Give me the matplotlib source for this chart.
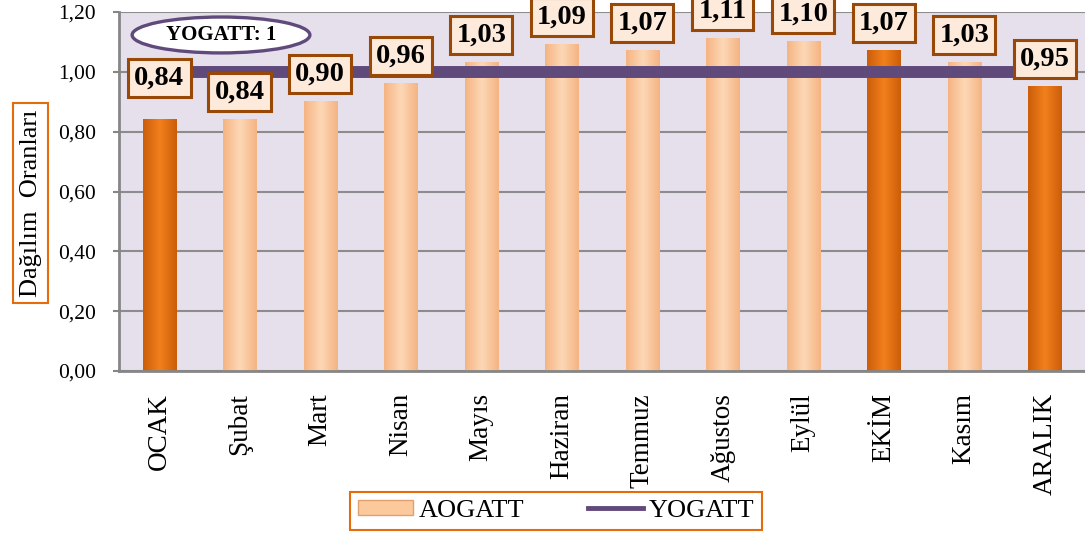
import numpy as np
import matplotlib
matplotlib.use('Agg')
import matplotlib.pyplot as plt
from matplotlib.colors import LinearSegmentedColormap
from matplotlib.patches import Ellipse, Patch
from matplotlib.lines import Line2D

plt.rcParams['font.family'] = ['Liberation Serif', 'DejaVu Serif']

# data
months = ['OCAK', 'Şubat', 'Mart', 'Nisan', 'Mayıs', 'Haziran', 'Temmuz',
          'Ağustos', 'Eylül', 'EKİM', 'Kasım', 'ARALIK']
aogatt = [0.84, 0.84, 0.90, 0.96, 1.03, 1.09, 1.07, 1.11, 1.10, 1.07, 1.03, 0.95]
yogatt = [1.00] * 12
highlight = ['OCAK', 'EKİM', 'ARALIK']
yticks = [0.0, 0.2, 0.4, 0.6, 0.8, 1.0, 1.2]

purple = '#604A7B'
orange_edge = '#E46C0A'

fig = plt.figure(figsize=(10.85, 5.35), dpi=100)
ax = fig.add_axes([119 / 1085, 164 / 535, 966 / 1085, 359 / 535])
ax.set_facecolor('#E5E0EC')

x = np.arange(len(months))
w = 0.41
bars = ax.bar(x, aogatt, width=w, color='none', zorder=2)

light = LinearSegmentedColormap.from_list('light', ['#F5B483', '#FDD8B6', '#F5B483'])
dark = LinearSegmentedColormap.from_list('dark', ['#CC5E0A', '#F2801C', '#CC5E0A'])
grad = np.linspace(0, 1, 64).reshape(1, -1)
for m, rect in zip(months, bars):
    cmap = dark if m in highlight else light
    x0 = rect.get_x()
    ax.imshow(grad, cmap=cmap, extent=[x0, x0 + rect.get_width(), 0, rect.get_height()],
              aspect='auto', zorder=2, interpolation='bicubic')

ax.plot(x, yogatt, color=purple, lw=8.6, zorder=3, solid_capstyle='butt')

for i, v in enumerate(aogatt):
    off = 30 if i == 0 else 20
    ax.annotate(f'{v:.2f}'.replace('.', ','), (x[i], v), xytext=(0, off),
                textcoords='offset points', ha='center', va='center',
                fontsize=20.5, fontweight='bold', zorder=5,
                bbox=dict(boxstyle='square,pad=0.22', fc='#FDEADA', ec='#984807', lw=2.2))

ax.set_xlim(-0.5, len(months) - 0.5)
ax.set_ylim(0, 1.2)
ax.set_yticks(yticks)
ax.set_yticklabels([f'{t:.2f}'.replace('.', ',') for t in yticks], fontsize=15.5)
ax.set_xticks(x)
ax.set_xticklabels(months, rotation=90, fontsize=19.5)
ax.tick_params(axis='x', length=0, pad=16)
ax.tick_params(axis='y', length=4.5, width=1.5, color='#868686', pad=12)
ax.grid(axis='y', color='#8C8C8C', lw=1.5, zorder=1)
ax.set_axisbelow(True)
for s in ['top', 'right']:
    ax.spines[s].set_visible(False)
for s in ['left', 'bottom']:
    ax.spines[s].set_color('#868686')
    ax.spines[s].set_linewidth(2)

ax.set_ylabel('Dağılım  Oranları', fontsize=19,
              bbox=dict(boxstyle='square,pad=0.25', fc='white', ec=orange_edge, lw=1.5))
ax.yaxis.set_label_coords(-0.08, 0.468)

ax.add_patch(Ellipse((0.1056, 0.936), 0.184, 0.10, transform=ax.transAxes,
                     fc='white', ec=purple, lw=2.4, zorder=4))
ax.text(0.1056, 0.936, 'YOGATT: 1', transform=ax.transAxes, ha='center', va='center',
        fontsize=15, fontweight='bold', zorder=5)

handles = [Patch(fc='#FBC99C', ec='#E0A070'),
           Line2D([], [], color=purple, lw=3.5)]
leg = fig.legend(handles, ['AOGATT', 'YOGATT'], loc='center', ncol=2,
                 bbox_to_anchor=(0.5125, 0.045), fontsize=19, fancybox=False,
                 edgecolor=orange_edge, framealpha=1, handlelength=2.1,
                 handleheight=0.5, handletextpad=0.2, columnspacing=2.4,
                 borderpad=0.3, borderaxespad=0)
leg.get_frame().set_linewidth(1.5)

fig.savefig('out.png', dpi=100)
